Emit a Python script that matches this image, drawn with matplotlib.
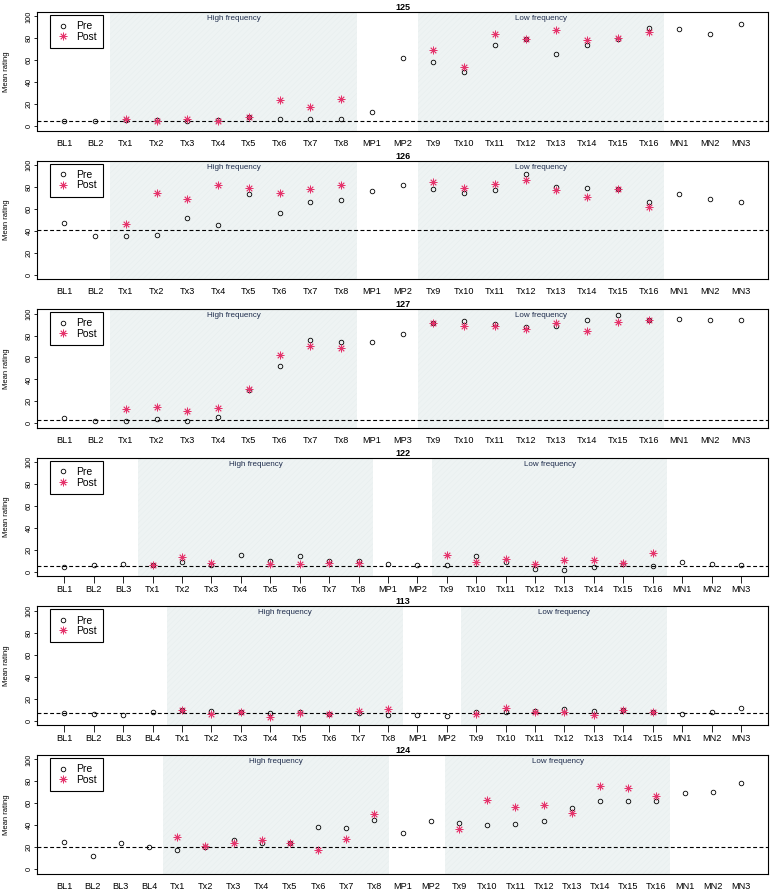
import numpy as np
import matplotlib
matplotlib.use('Agg')
import matplotlib.pyplot as plt

plt.rcParams['font.family'] = ['Liberation Sans', 'DejaVu Sans']
plt.rcParams['hatch.linewidth'] = 0.3

nan = np.nan
tx_hi = ['Tx%d' % i for i in range(1, 9)]
tx_lo16 = ['Tx%d' % i for i in range(9, 17)]
tx_lo15 = ['Tx%d' % i for i in range(9, 16)]
mn = ['MN1', 'MN2', 'MN3']

# --- data per subject ---
titles = ['125', '126', '127', '122', '113', '124']

cats_125 = ['BL1', 'BL2'] + tx_hi + ['MP1', 'MP2'] + tx_lo16 + mn
pre_125 = [5, 5, 6, 5.5, 5, 6, 8, 6.5, 6.5, 6.5, 13.3, 62.4,
           58.4, 49.7, 73.8, 79, 65.4, 73.8, 79, 89.4, 88.9, 84, 93]
post_125 = [nan, nan, 6.5, 5, 6.5, 5, 8, 24, 17, 24.3, nan, nan,
            69.6, 53.9, 84.4, 79.5, 87.4, 78.3, 80.4, 85.5, nan, nan, nan]
base_125 = 5

cats_126 = ['BL1', 'BL2'] + tx_hi + ['MP1', 'MP2'] + tx_lo16 + mn
pre_126 = [47.2, 35.3, 35.3, 36, 51.5, 45.1, 73.2, 56.4, 66.1, 68.3, 76.2, 81.7,
           77.8, 74.7, 77.1, 91.8, 80.2, 78.7, 78.3, 66.4, 73.5, 68.9, 66.1]
post_126 = [nan, nan, 46, 74.7, 69.2, 81.4, 79, 74.4, 78, 81.4, nan, nan,
            84.5, 78.7, 82.9, 86, 76.9, 71, 78.3, 61.6, nan, nan, nan]
base_126 = 41

cats_127 = ['BL1', 'BL2'] + tx_hi + ['MP1', 'MP3'] + tx_lo16 + mn
pre_127 = [4.5, 2.4, 1.8, 3.9, 2.4, 5.7, 30.6, 52.4, 76, 74.2, 73.9, 81.8,
           91, 93.3, 90.9, 87.8, 88.7, 94.5, 98.5, 94.5, 95.1, 94.5, 93.9]
post_127 = [nan, nan, 12.7, 14.5, 11.2, 13.9, 31, 62.7, 70.5, 68.2, nan, nan,
            91.2, 88.5, 89.1, 85.5, 91.2, 84.5, 92.7, 94, nan, nan, nan]
base_127 = 3

cats_122 = ['BL1', 'BL2', 'BL3'] + tx_hi + ['MP1', 'MP2'] + tx_lo16 + mn
pre_122 = [4.6, 6.7, 7.3, 6.5, 9.2, 6.7, 15.2, 9.8, 14.7, 9.5, 9.8, 7.5, 6.7,
           6.1, 14.7, 9, 2.7, 1.5, 4.2, 7, 5.5, 9.2, 7.3, 6.4]
post_122 = [nan, nan, nan, 6.1, 13.8, 8.3, nan, 7.6, 7.3, 7.9, 7.9, nan, nan,
            15.2, 9.2, 11.9, 7.6, 10.6, 10.6, 7.9, 16.8, nan, nan, nan]
base_122 = 5.8

cats_113 = ['BL1', 'BL2', 'BL3', 'BL4'] + tx_hi + ['MP1', 'MP2'] + tx_lo15 + mn
pre_113 = [7, 5.5, 5.2, 7.6, 9.7, 8.8, 7.9, 6.7, 7.9, 6.1, 6.4, 5.2, 5.2, 4.5,
           7.9, 8.2, 8.8, 10.3, 9.1, 9.5, 7.6, 6.1, 7.6, 11.8]
post_113 = [nan, nan, nan, nan, 9.4, 5.8, 7.6, 3.3, 7.3, 5.8, 9.1, 10.3, nan, nan,
            5.8, 11.3, 8.2, 7.6, 5.2, 10, 7.6, nan, nan, nan]
base_113 = 6.4

cats_124 = ['BL1', 'BL2', 'BL3', 'BL4'] + tx_hi + ['MP1', 'MP2'] + tx_lo16 + mn
pre_124 = [24.7, 11.8, 24.1, 20.5, 17.8, 20.2, 26.8, 24.1, 24.1, 38.6, 37.4, 44.6,
           33.2, 43.4, 41.9, 39.8, 40.7, 44.3, 55.7, 62.3, 62.3, 61.8, 69.3, 70.5, 78.3]
post_124 = [nan, nan, nan, nan, 29.3, 20.8, 24.1, 26.8, 24.1, 17.2, 27.5, 50.3, nan, nan,
            36.8, 63, 56.9, 58.4, 50.9, 75.9, 73.5, 66.8, nan, nan, nan]
base_124 = 20.2

panels = [
    (cats_125, pre_125, post_125, base_125),
    (cats_126, pre_126, post_126, base_126),
    (cats_127, pre_127, post_127, base_127),
    (cats_122, pre_122, post_122, base_122),
    (cats_113, pre_113, post_113, base_113),
    (cats_124, pre_124, post_124, base_124),
]
show_xticks = [False, False, False, True, True, False]

post_color = '#e5336b'
shade_color = '#eef3f3'
W, H = 772, 893
fig = plt.figure(figsize=(W / 100, H / 100), dpi=100)

left_px, right_px = 37.3, 768
box_h = 118.5
for i, (cats, pre, post, base) in enumerate(panels):
    top_px = 12 + i * 148.6
    ax = fig.add_axes([left_px / W, 1 - (top_px + box_h) / H,
                       (right_px - left_px) / W, box_h / H])
    n = len(cats)
    x = np.arange(1, n + 1)
    pad = 0.04 * (n - 1)
    ax.set_xlim(1 - pad, n + pad)
    ax.set_ylim(-4, 104)

    # shaded frequency blocks
    hi0 = cats.index('Tx1') + 1 - 0.5
    hi1 = cats.index('Tx8') + 1 + 0.5
    lo0 = cats.index('Tx9') + 1 - 0.5
    lo1 = max(j for j, c in enumerate(cats) if c.startswith('Tx')) + 1 + 0.5
    for a, b, lab in [(hi0, hi1, 'High frequency'), (lo0, lo1, 'Low frequency')]:
        ax.axvspan(a, b, facecolor=shade_color, edgecolor='#e6eded',
                   hatch='//////', lw=0, zorder=0)
        ax.text((a + b) / 2, 0.975, lab, transform=ax.get_xaxis_transform(),
                ha='center', va='top', fontsize=5.8, color='#1f2d4d')

    ax.axhline(base, color='black', lw=0.8, dashes=(3.5, 2.2), zorder=1)
    ax.plot(x, pre, 'o', mfc='none', mec='black', ms=3.3, mew=0.6,
            zorder=3, label='Pre')
    ax.plot(x, post, ls='none', marker=(8, 2, 0), color=post_color, ms=5.5,
            mew=0.6, zorder=4, label='Post')

    ax.set_xticks(x)
    ax.set_xticklabels(cats, fontsize=6.6)
    if show_xticks[i]:
        ax.tick_params(axis='x', length=5, width=0.6, pad=1.2)
    else:
        ax.tick_params(axis='x', length=0, pad=5.8)
    ax.set_yticks([0, 20, 40, 60, 80, 100])
    ax.tick_params(axis='y', length=2.2, width=0.6, pad=1, labelsize=5.3)
    for t in ax.get_yticklabels():
        t.set_rotation(90)
        t.set_va('center')
    ax.set_ylabel('Mean rating', fontsize=5.5)
    ax.yaxis.set_label_coords(-0.037, 0.5)
    for s in ax.spines.values():
        s.set_linewidth(0.8)
    ax.set_title(titles[i], fontsize=6.5, fontweight='bold', pad=1.5)

    leg = ax.legend(loc='upper left', bbox_to_anchor=(0.0174, 0.975),
                    borderaxespad=0, fontsize=7.5, frameon=True, fancybox=False,
                    edgecolor='black', framealpha=1, handlelength=1.3,
                    handletextpad=0.6, borderpad=0.6, labelspacing=0.05)
    leg.get_frame().set_linewidth(0.8)
    leg.get_frame().set_boxstyle('square', pad=0)
    # R-style legend: a little extra room on the right of the labels
    fig.canvas.draw()
    bb = leg.get_window_extent()
    leg.get_frame().set_width(bb.width + 7)

fig.savefig('out.png', dpi=100)
